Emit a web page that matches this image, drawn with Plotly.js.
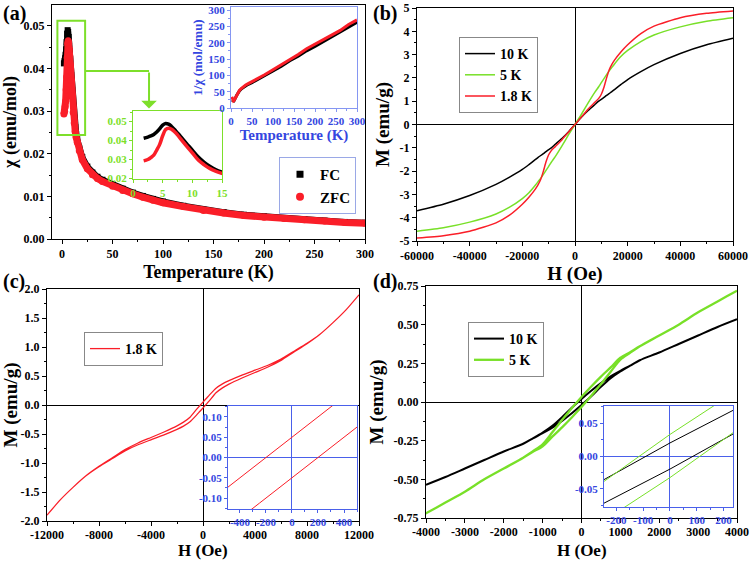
<!DOCTYPE html>
<html>
<head>
<meta charset="utf-8">
<script src="https://cdn.plot.ly/plotly-3.0.1.min.js"></script>
<style>html,body{margin:0;padding:0;background:#fff;}#plot{width:751px;height:561px;}</style>
</head>
<body>
<div id="plot"></div>
<script>
// ---------- Panel (a): susceptibility ----------
const T = [1.8,2.5,3,3.5,4,4.5,5,5.5,6,6.5,7,7.5,8,9,10,11,12,13,14,15,17,20,25,30,35,40,50,60,70,80,90,100,120,140,160,180,200,220,240,260,280,300];
const chiFC = [0.0412,0.0418,0.0424,0.0432,0.0445,0.0462,0.0481,0.0490,0.0486,0.0474,0.0458,0.0440,0.0422,0.0385,0.0350,0.0313,0.0285,0.0263,0.0246,0.0234,0.0214,0.0192,0.0170,0.0156,0.0146,0.0139,0.0128,0.0118,0.0109,0.0101,0.0094,0.0088,0.0078,0.0069,0.0063,0.0057,0.0053,0.0049,0.0046,0.0043,0.0040,0.0038];
const chiZFC = [0.0293,0.0300,0.0310,0.0323,0.0350,0.0380,0.0425,0.0458,0.0465,0.0459,0.0446,0.0430,0.0410,0.0372,0.0335,0.0297,0.0272,0.0252,0.0238,0.0227,0.0207,0.0186,0.0165,0.0151,0.0142,0.0135,0.0124,0.0114,0.0106,0.0098,0.0091,0.0085,0.0076,0.0067,0.0061,0.0055,0.0051,0.0048,0.0045,0.0042,0.0039,0.0037];

// ---------- Panel (b): M vs H ----------
const Hb = [-60000,-50000,-40000,-30000,-25000,-20000,-17500,-15000,-14000,-13000,-12000,-11000,-10000,-9000,-7500,-5000,-2500,0,2500,5000,7500,9000,10000,11000,12000,13000,14000,15000,17500,20000,25000,30000,40000,50000,60000];
const M10K = [-3.70,-3.42,-3.05,-2.57,-2.27,-1.93,-1.72,-1.50,-1.41,-1.33,-1.25,-1.16,-1.08,-1.00,-0.85,-0.60,-0.32,0,0.32,0.60,0.85,1.00,1.08,1.16,1.25,1.33,1.41,1.50,1.72,1.93,2.27,2.57,3.05,3.42,3.70];
const M5K = [-4.58,-4.43,-4.19,-3.84,-3.56,-3.18,-2.93,-2.60,-2.45,-2.30,-2.14,-1.97,-1.80,-1.62,-1.38,-0.93,-0.45,0,0.45,0.93,1.38,1.62,1.80,1.97,2.14,2.30,2.45,2.60,2.93,3.18,3.56,3.84,4.19,4.43,4.58];
const M18K = [-4.87,-4.77,-4.58,-4.22,-3.90,-3.42,-3.12,-2.76,-2.58,-2.35,-2.00,-1.60,-1.30,-1.12,-0.95,-0.66,-0.33,0,0.33,0.66,0.95,1.12,1.30,1.60,2.00,2.35,2.58,2.76,3.12,3.42,3.90,4.22,4.58,4.77,4.87];

// ---------- Panel (c): 1.8 K loop ----------
const Hc = [-12000,-11000,-10000,-9000,-8000,-7000,-6000,-5000,-4000,-3000,-2000,-1500,-1000,-500,-250,0,250,500,1000,1500,2000,3000,4000,5000,6000,7000,8000,9000,10000,11000,12000];
const Mc_up = [-1.90,-1.64,-1.42,-1.22,-1.057,-0.914,-0.77,-0.655,-0.56,-0.465,-0.36,-0.295,-0.21,-0.075,-0.0125,0.05,0.1125,0.175,0.29,0.365,0.42,0.515,0.60,0.685,0.79,0.926,1.063,1.22,1.42,1.64,1.90];
const Mc_dn = [-1.90,-1.64,-1.42,-1.22,-1.063,-0.926,-0.79,-0.685,-0.60,-0.515,-0.42,-0.365,-0.29,-0.175,-0.1125,-0.05,0.0125,0.075,0.21,0.295,0.36,0.465,0.56,0.655,0.77,0.914,1.057,1.22,1.42,1.64,1.90];

// ---------- Panel (d): 10 K and 5 K loops ----------
const Hd = [-4000,-3500,-3000,-2500,-2000,-1500,-1250,-1000,-750,-500,-250,0,250,500,750,1000,1250,1500,2000,2500,3000,3500,4000];
const M10_up = [-0.535,-0.485,-0.43,-0.375,-0.32,-0.27,-0.235,-0.198,-0.154,-0.098,-0.037,0.02,0.073,0.122,0.166,0.202,0.235,0.27,0.32,0.375,0.43,0.485,0.535];
const M10_dn = [-0.535,-0.485,-0.43,-0.375,-0.32,-0.27,-0.235,-0.202,-0.166,-0.122,-0.073,-0.02,0.037,0.098,0.154,0.198,0.235,0.27,0.32,0.375,0.43,0.485,0.535];
const M5_up = [-0.72,-0.65,-0.58,-0.50,-0.43,-0.36,-0.318,-0.274,-0.196,-0.116,-0.04,0.033,0.10,0.164,0.224,0.286,0.322,0.36,0.43,0.50,0.58,0.65,0.72];
const M5_dn = [-0.72,-0.65,-0.58,-0.50,-0.43,-0.36,-0.322,-0.286,-0.224,-0.164,-0.10,-0.033,0.04,0.116,0.196,0.274,0.318,0.36,0.43,0.50,0.58,0.65,0.72];

// ---------- tick labels ----------
const ticksB = [-60000,-40000,-20000,0,20000,40000,60000];
const ticksC = [-12000,-8000,-4000,0,4000,8000,12000];
const ticksD = [-4000,-3000,-2000,-1000,0,1000,2000,3000,4000];
const ticksBy = [-5,-4,-3,-2,-1,0,1,2,3,4,5];
const ticksCy = [-2,-1.5,-1,-0.5,0,0.5,1,1.5,2];
const ticksDy = [-0.75,-0.5,-0.25,0,0.25,0.5,0.75];
const ticksCinX = [-400,-200,0,200,400];
const ticksCinY = [-0.1,-0.05,0,0.05,0.1];
const ticksDinX = [-200,-100,0,100,200];
const ticksDinY = [-0.05,0,0.05];

// ---------- styling ----------
const SERIF = 'Liberation Serif';
const BLACK = '#000000', RED = '#fa1e28', GREEN = '#78e028', BLUE = '#4a60ea', BLUET = '#3446e0', LGREEN = '#7ddf2a';

function loopX(H){ return H.slice().reverse().concat(H); }
function loopY(up, dn){ return up.slice().reverse().concat(dn); }
const invFC = chiFC.map(v => 1 / v);
const invZFC = chiZFC.map(v => 1 / v);
function tk(vals, dec){ return {tickmode: 'array', tickvals: vals, ticktext: vals.map(v => v.toFixed(dec))}; }

function ax(domain, range, extra){
  return Object.assign({
    domain: domain, range: range, showgrid: false, zeroline: false,
    showline: true, mirror: true, linecolor: '#000', linewidth: 1,
    ticks: 'outside', ticklen: 4, tickwidth: 1, tickcolor: '#000',
    tickfont: {family: SERIF, size: 12, color: '#000', weight: 'bold'},
    fixedrange: true
  }, extra);
}
function ttl(text, size, color, so){ return {text: text, font: {family: SERIF, size: size, color: color || '#000', weight: 'bold'}, standoff: so === undefined ? 4 : so}; }
function minor(d, color){ return {dtick: d, ticks: 'outside', ticklen: 2, tickcolor: color || '#000'}; }

const traces = [
  // (a) main
  {x: T, y: chiFC, xaxis: 'x', yaxis: 'y', mode: 'lines+markers', line: {color: BLACK, width: 6}, marker: {symbol: 'square', size: 6, color: BLACK}, showlegend: false},
  {x: T, y: chiZFC, xaxis: 'x', yaxis: 'y', mode: 'lines+markers', line: {color: RED, width: 7}, marker: {symbol: 'circle', size: 7, color: RED}, showlegend: false},
  {x: [null], y: [null], xaxis: 'x', yaxis: 'y', mode: 'markers', name: 'FC', marker: {symbol: 'square', size: 7, color: BLACK}, legend: 'legend'},
  {x: [null], y: [null], xaxis: 'x', yaxis: 'y', mode: 'markers', name: 'ZFC', marker: {symbol: 'circle', size: 8, color: RED}, legend: 'legend'},
  // (a) zoom inset
  {x: T, y: chiFC, xaxis: 'x2', yaxis: 'y2', mode: 'lines', line: {color: BLACK, width: 3.5, shape: 'spline'}, showlegend: false},
  {x: T, y: chiZFC, xaxis: 'x2', yaxis: 'y2', mode: 'lines', line: {color: RED, width: 3.5, shape: 'spline'}, showlegend: false},
  // (a) 1/chi inset
  {x: T, y: invFC, xaxis: 'x3', yaxis: 'y3', mode: 'lines', line: {color: BLACK, width: 3}, showlegend: false},
  {x: T, y: invZFC, xaxis: 'x3', yaxis: 'y3', mode: 'lines', line: {color: RED, width: 3}, showlegend: false},
  // (b)
  {x: Hb, y: M10K, xaxis: 'x4', yaxis: 'y4', mode: 'lines', name: '10 K', line: {color: BLACK, width: 1.5, shape: 'spline', smoothing: 0.6}, legend: 'legend2'},
  {x: Hb, y: M5K, xaxis: 'x4', yaxis: 'y4', mode: 'lines', name: '5 K', line: {color: GREEN, width: 1.5, shape: 'spline', smoothing: 0.6}, legend: 'legend2'},
  {x: Hb, y: M18K, xaxis: 'x4', yaxis: 'y4', mode: 'lines', name: '1.8 K', line: {color: RED, width: 1.5, shape: 'spline', smoothing: 0.6}, legend: 'legend2'},
  // (c)
  {x: loopX(Hc), y: loopY(Mc_up, Mc_dn), xaxis: 'x5', yaxis: 'y5', mode: 'lines', name: '1.8 K', line: {color: RED, width: 1.3, shape: 'spline', smoothing: 0.5}, legend: 'legend3'},
  // (d)
  {x: loopX(Hd), y: loopY(M10_up, M10_dn), xaxis: 'x6', yaxis: 'y6', mode: 'lines', name: '10 K', line: {color: BLACK, width: 2, shape: 'spline', smoothing: 0.8}, legend: 'legend4'},
  {x: loopX(Hd), y: loopY(M5_up, M5_dn), xaxis: 'x6', yaxis: 'y6', mode: 'lines', name: '5 K', line: {color: GREEN, width: 2.3, shape: 'spline', smoothing: 0.8}, legend: 'legend4'},
  // (c) inset
  {x: loopX(Hc), y: loopY(Mc_up, Mc_dn), xaxis: 'x7', yaxis: 'y7', mode: 'lines', line: {color: RED, width: 1}, showlegend: false},
  // (d) inset
  {x: loopX(Hd), y: loopY(M10_up, M10_dn), xaxis: 'x8', yaxis: 'y8', mode: 'lines', line: {color: BLACK, width: 1}, showlegend: false},
  {x: loopX(Hd), y: loopY(M5_up, M5_dn), xaxis: 'x8', yaxis: 'y8', mode: 'lines', line: {color: GREEN, width: 1}, showlegend: false}
];

const W = 751, Hh = 561;
const px = v => v / W, py = v => 1 - v / Hh;

function inAx(domain, range, col, tcol, extra){
  return ax(domain, range, Object.assign({linecolor: col, tickcolor: col, ticklen: 3, tickfont: {family: SERIF, size: 11, color: tcol, weight: 'bold'}}, extra));
}
const ZL = {zeroline: true, zerolinecolor: '#000', zerolinewidth: 1};
const ZLB = {zeroline: true, zerolinecolor: BLUE, zerolinewidth: 1};
const TF = (sz) => ({family: SERIF, size: sz, color: '#000', weight: 'bold'});

const legStyle = (x, y, size, border) => ({x: x, y: y, xanchor: 'left', yanchor: 'top', xref: 'paper', yref: 'paper', bgcolor: '#fff', bordercolor: border, borderwidth: 1, font: {family: SERIF, size: size, color: '#000', weight: 'bold'}, itemwidth: 30, tracegroupgap: 0});

const layout = {
  width: W, height: Hh, margin: {l: 0, r: 0, t: 0, b: 0},
  paper_bgcolor: '#fff', plot_bgcolor: 'rgba(0,0,0,0)',
  showlegend: true,
  // (a)
  xaxis: ax([px(52), px(365)], [-10, 300], {anchor: 'y', dtick: 50, tick0: 0, minor: minor(25), title: ttl('Temperature (K)', 18)}),
  yaxis: ax([py(239), py(5)], [0, 0.0549], {anchor: 'x', dtick: 0.01, tickformat: '.2f', minor: minor(0.005), title: ttl('χ (emu/mol)', 18)}),
  xaxis2: inAx([px(133), px(222)], [0, 15], LGREEN, LGREEN, {anchor: 'y2', dtick: 5, minor: minor(2.5, LGREEN)}),
  yaxis2: inAx([py(179.3), py(110.7)], [0.0196, 0.0557], LGREEN, LGREEN, {anchor: 'x2', dtick: 0.01, tickformat: '.2f', minor: minor(0.005, LGREEN)}),
  xaxis3: inAx([px(231), px(357)], [0, 300], '#8596f2', BLUET, {anchor: 'y3', dtick: 50, minor: minor(25, '#8596f2'), title: ttl('Temperature (K)', 15, BLUET, 2)}),
  yaxis3: inAx([py(108), py(7)], [0, 310], '#8596f2', BLUET, {anchor: 'x3', dtick: 50, minor: minor(25, '#8596f2'), title: ttl('1/χ (mol/emu)', 13, BLUET, 2)}),
  // (b)
  xaxis4: ax([px(417), px(733)], [-60000, 60000], Object.assign(tk(ticksB, 0), ZL, {anchor: 'y4', minor: minor(10000), title: ttl('H (Oe)', 19)})),
  yaxis4: ax([py(241), py(8)], [-5, 5], Object.assign(tk(ticksBy, 0), ZL, {anchor: 'x4', minor: minor(0.5), title: ttl('M (emu/g)', 19)})),
  // (c)
  xaxis5: ax([px(47), px(359)], [-12000, 12000], Object.assign(tk(ticksC, 0), ZL, {anchor: 'y5', ticklen: 4, ticklabelstandoff: -1, minor: minor(2000)})),
  yaxis5: ax([py(521), py(289)], [-2, 2], Object.assign(tk(ticksCy, 1), ZL, {anchor: 'x5', minor: minor(0.25), title: ttl('M (emu/g)', 19)})),
  // (d)
  xaxis6: ax([px(426), px(737)], [-4000, 4000], Object.assign(tk(ticksD, 0), ZL, {anchor: 'y6', ticklen: 4, ticklabelstandoff: -1, minor: minor(500)})),
  yaxis6: ax([py(518), py(286)], [-0.75, 0.75], Object.assign(tk(ticksDy, 2), ZL, {anchor: 'x6', minor: minor(0.125), title: ttl('M (emu/g)', 19)})),
  // (c) inset
  xaxis7: inAx([px(228), px(357)], [-492, 500], BLUE, BLUET, Object.assign(tk(ticksCinX, 0), ZLB, {anchor: 'y7', minor: minor(100, BLUE)})),
  yaxis7: inAx([py(509), py(406)], [-0.127, 0.127], BLUE, BLUET, Object.assign(tk(ticksCinY, 2), ZLB, {anchor: 'x7', minor: minor(0.025, BLUE)})),
  // (d) inset
  xaxis8: inAx([px(604), px(733)], [-246, 235], BLUE, BLUET, Object.assign(tk(ticksDinX, 0), ZLB, {anchor: 'y8', minor: minor(50, BLUE)})),
  yaxis8: inAx([py(507), py(406)], [-0.078, 0.0765], BLUE, BLUET, Object.assign(tk(ticksDinY, 2), ZLB, {anchor: 'x8', minor: minor(0.025, BLUE)})),
  legend: legStyle(px(279), py(157), 15, '#9aa8e6'),
  legend2: legStyle(px(459), py(37), 14, '#888'),
  legend3: legStyle(px(84), py(332), 14, '#888'),
  legend4: legStyle(px(468), py(322), 14, '#888'),
  shapes: [
    {type: 'rect', xref: 'x', yref: 'y', x0: -4.65, x1: 22.8, y0: 0.0244, y1: 0.0512, line: {color: LGREEN, width: 2}},
    {type: 'line', xref: 'x', yref: 'y', x0: 22.8, x1: 86.1, y0: 0.0394, y1: 0.0394, line: {color: LGREEN, width: 2}}
  ],
  annotations: [
    {xref: 'x', yref: 'y', axref: 'x', ayref: 'y', x: 86.1, y: 0.0306, ax: 86.1, ay: 0.0394, text: '', showarrow: true, arrowhead: 1, arrowsize: 1.3, arrowwidth: 2, arrowcolor: LGREEN},
    {xref: 'paper', yref: 'paper', x: px(203), y: 0, xanchor: 'center', yanchor: 'bottom', text: 'H (Oe)', showarrow: false, font: TF(17), borderpad: 0},
    {xref: 'paper', yref: 'paper', x: px(581.5), y: 0, xanchor: 'center', yanchor: 'bottom', text: 'H (Oe)', showarrow: false, font: TF(17), borderpad: 0},
    {xref: 'paper', yref: 'paper', x: px(1), y: py(13), xanchor: 'left', yanchor: 'middle', text: '(a)', showarrow: false, font: TF(20)},
    {xref: 'paper', yref: 'paper', x: px(371), y: py(13), xanchor: 'left', yanchor: 'middle', text: '(b)', showarrow: false, font: TF(20)},
    {xref: 'paper', yref: 'paper', x: px(1), y: py(281), xanchor: 'left', yanchor: 'middle', text: '(c)', showarrow: false, font: TF(20)},
    {xref: 'paper', yref: 'paper', x: px(371), y: py(281), xanchor: 'left', yanchor: 'middle', text: '(d)', showarrow: false, font: TF(20)}
  ]
};

Plotly.newPlot('plot', traces, layout, {displayModeBar: false, staticPlot: true});
</script>
</body>
</html>
